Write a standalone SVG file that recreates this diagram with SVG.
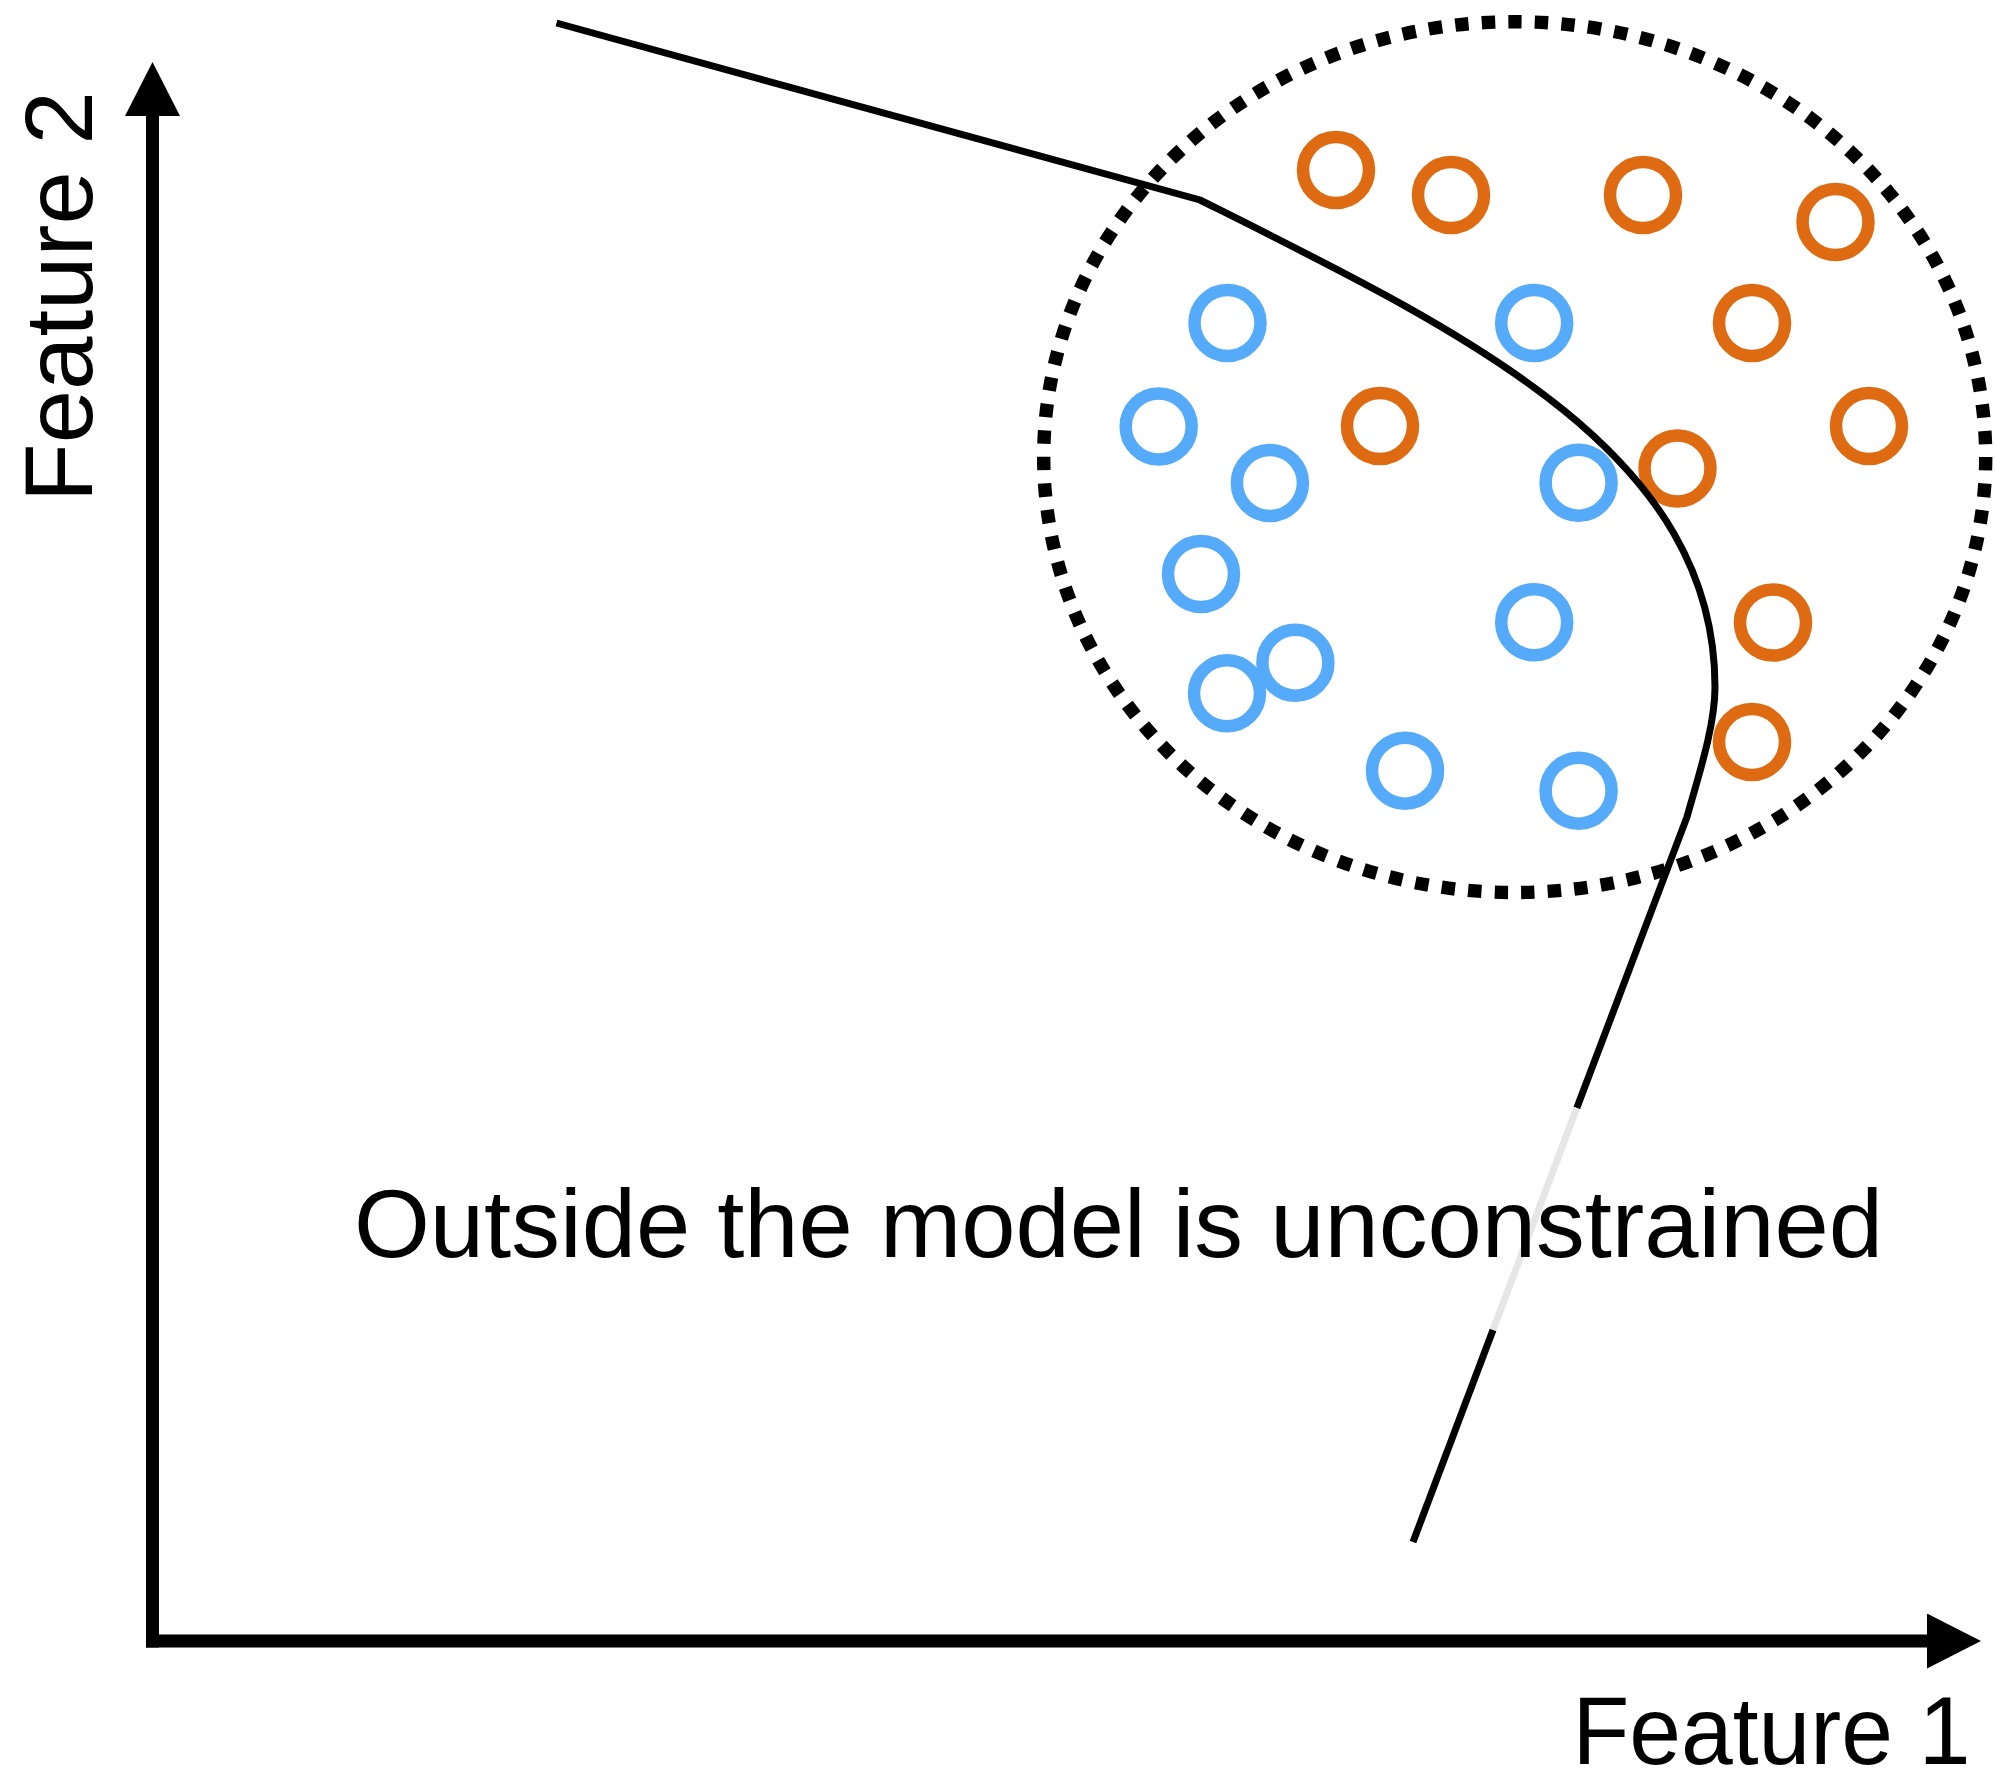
<svg xmlns="http://www.w3.org/2000/svg" width="1995" height="1783" viewBox="0 0 1995 1783">
  <style>
    .axis { stroke: #000; stroke-width: 13; fill: none; }
    .label { font-family: "Liberation Sans", Arial, Helvetica, sans-serif; font-size: 96px; fill: #000; }
    .boundary { stroke: #000; stroke-width: 7; fill: none; stroke-linejoin: miter; }
    .faded { stroke: #e6e6e6; stroke-width: 7; fill: none; }
    .region { stroke: #000; stroke-width: 13.4; fill: none; stroke-dasharray: 13.4 13.22; }
    .orange { stroke: #de6b12; stroke-width: 12.5; fill: none; }
    .blue { stroke: #56aafa; stroke-width: 12.5; fill: none; }
  </style>
  <defs>
    <marker id="arrow" viewBox="0 0 54 55" refX="0" refY="27.5" markerWidth="54" markerHeight="55" markerUnits="userSpaceOnUse" orient="auto">
      <path d="M0,0 L54,27.5 L0,55 Z" fill="#000"/>
    </marker>
  </defs>
  <rect width="1995" height="1783" fill="#fff"/>

  <!-- axes -->
  <g id="axes">
    <line class="axis" x1="152.5" y1="1647.5" x2="152.5" y2="116" marker-end="url(#arrow)"/>
    <line class="axis" x1="146" y1="1641" x2="1927" y2="1641" marker-end="url(#arrow)"/>
    <text id="feature2" class="label" transform="translate(92,502) rotate(-90)">Feature 2</text>
    <text id="feature1" class="label" x="1572.5" y="1764" textLength="398" lengthAdjust="spacingAndGlyphs">Feature 1</text>
  </g>

  <!-- dotted region holding the training data -->
  <g id="data-region">
    <ellipse class="region" cx="1514.7" cy="457.1" rx="471" ry="435.4"/>
  </g>

  <!-- class A samples -->
  <g id="orange-points">
    <circle class="orange" cx="1336" cy="170" r="33"/>
    <circle class="orange" cx="1451" cy="195" r="33"/>
    <circle class="orange" cx="1643" cy="195" r="33"/>
    <circle class="orange" cx="1835.5" cy="222" r="33"/>
    <circle class="orange" cx="1752" cy="323" r="33"/>
    <circle class="orange" cx="1380" cy="426" r="33"/>
    <circle class="orange" cx="1869" cy="426" r="33"/>
    <circle class="orange" cx="1677.5" cy="468.5" r="33"/>
    <circle class="orange" cx="1773" cy="622.5" r="33"/>
    <circle class="orange" cx="1752" cy="742" r="33"/>
  </g>

  <!-- class B samples -->
  <g id="blue-points">
    <circle class="blue" cx="1227.5" cy="323" r="33"/>
    <circle class="blue" cx="1534.2" cy="323" r="33"/>
    <circle class="blue" cx="1158.7" cy="426.5" r="33"/>
    <circle class="blue" cx="1269.9" cy="483" r="33"/>
    <circle class="blue" cx="1578.6" cy="482.7" r="33"/>
    <circle class="blue" cx="1201" cy="574" r="33"/>
    <circle class="blue" cx="1534.2" cy="622.3" r="33"/>
    <circle class="blue" cx="1295.4" cy="662.7" r="33"/>
    <circle class="blue" cx="1227" cy="693.3" r="33"/>
    <circle class="blue" cx="1405" cy="770.7" r="33"/>
    <circle class="blue" cx="1578.6" cy="790.7" r="33"/>
  </g>

  <!-- decision boundary -->
  <g id="connectors">
    <path class="boundary" d="M556.5,23 L1200,200 C1468,334 1715,452 1715,687 C1715,727 1697.6,778.4 1687,817 L1576.8,1108"/>
    <path class="faded" d="M1576.8,1108 L1493,1330"/>
    <path class="boundary" d="M1493,1330 L1413,1542"/>
  </g>

  <g id="caption">
    <text class="label" x="354" y="1257" textLength="1529" lengthAdjust="spacingAndGlyphs" style="font-size:97px">Outside the model is unconstrained</text>
  </g>
</svg>
